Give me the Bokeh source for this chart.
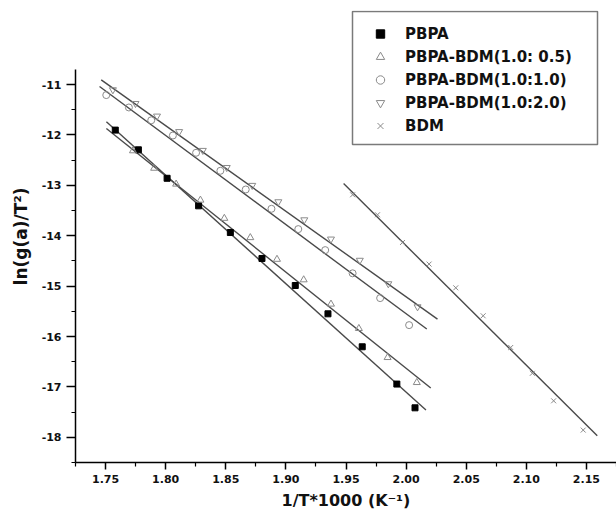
import numpy as np
from bokeh.plotting import figure
from bokeh.models import Legend, LegendItem, FixedTicker, NumeralTickFormatter, BoxAnnotation
from bokeh.embed import file_html
from bokeh.resources import INLINE

# ---------------- data ----------------
pbpa_x = [1.7581, 1.7773, 1.8012, 1.8274, 1.8538, 1.8801, 1.9078, 1.9350, 1.9635, 1.9923, 2.0074]
pbpa_y = [-11.905, -12.296, -12.861, -13.407, -13.937, -14.452, -14.988, -15.550, -16.204, -16.944, -17.415]

b05_x = [1.7728, 1.7904, 1.8087, 1.8289, 1.8488, 1.8704, 1.8926, 1.9148, 1.9375, 1.9607, 1.9846, 2.0089]
b05_y = [-12.315, -12.661, -12.976, -13.294, -13.655, -14.038, -14.468, -14.875, -15.357, -15.841, -16.417, -16.913]

b10_x = [1.7506, 1.7694, 1.7880, 1.8060, 1.8253, 1.8455, 1.8666, 1.8880, 1.9103, 1.9327, 1.9555, 1.9784, 2.0025]
b10_y = [-11.210, -11.456, -11.710, -12.012, -12.355, -12.712, -13.083, -13.466, -13.869, -14.286, -14.746, -15.238, -15.774]

b20_x = [1.7561, 1.7749, 1.7928, 1.8112, 1.8309, 1.8508, 1.8720, 1.8937, 1.9153, 1.9375, 1.9615, 1.9852, 2.0095]
b20_y = [-11.105, -11.377, -11.627, -11.935, -12.308, -12.647, -13.002, -13.327, -13.685, -14.067, -14.488, -14.954, -15.411]

bdm_x = [1.9555, 1.9762, 1.9970, 2.0191, 2.0413, 2.0641, 2.0870, 2.1050, 2.1227, 2.1473]
bdm_y = [-13.188, -13.585, -14.135, -14.563, -15.034, -15.589, -16.218, -16.730, -17.276, -17.857]

series_names = ["PBPA", "PBPA-BDM(1.0: 0.5)", "PBPA-BDM(1.0:1.0)", "PBPA-BDM(1.0:2.0)", "BDM"]

# linear fits (slope, intercept, x-span)
fit_slope = [-21.52, -19.09, -17.68, -16.975, -23.73]
fit_intercept = [25.935, 21.548, 19.812, 18.738, 33.262]
fit_x_start = [1.7507, 1.7507, 1.7450, 1.7464, 1.9480]
fit_x_end = [2.0165, 2.0205, 2.0172, 2.0261, 2.1590]

x_ticks = [1.75, 1.80, 1.85, 1.90, 1.95, 2.00, 2.05, 2.10, 2.15]
x_minor = [1.725, 1.775, 1.825, 1.875, 1.925, 1.975, 2.025, 2.075, 2.125, 2.175]
y_ticks = [-18, -17, -16, -15, -14, -13, -12, -11]
y_minor = [-18.5, -17.5, -16.5, -15.5, -14.5, -13.5, -12.5, -11.5]

x_axis_span = (1.725, 2.175)
y_axis_span = (-18.5, -10.7)

# ---------------- figure ----------------
FONT = "DejaVu Sans"
px_per_y = 50.4
frame_h = 452

p = figure(width=616, height=516, output_backend="svg", toolbar_location=None,
           x_range=x_axis_span,
           y_range=(y_axis_span[0], y_axis_span[0] + frame_h / px_per_y),
           min_border_left=75, min_border_right=0, min_border_top=10, min_border_bottom=54)
p.background_fill_color = "white"
p.border_fill_color = "white"
p.outline_line_color = None
p.xgrid.visible = False
p.ygrid.visible = False

for ax in (p.xaxis[0], p.yaxis[0]):
    ax.axis_line_color = "black"
    ax.axis_line_width = 1.5
    ax.major_tick_line_color = "black"
    ax.major_tick_line_width = 1.5
    ax.minor_tick_line_color = "black"
    ax.minor_tick_line_width = 1.2
    ax.major_tick_in = 0
    ax.minor_tick_in = 0
    ax.major_label_text_font = FONT
    ax.major_label_text_font_style = "bold"
    ax.major_label_text_font_size = "11px"
    ax.major_label_text_color = "#111111"
    ax.axis_label_text_font = FONT
    ax.axis_label_text_font_style = "bold"
    ax.axis_label_text_color = "#111111"

p.xaxis.axis_label_text_font_size = "16px"
p.yaxis.axis_label_text_font_size = "17px"
p.xaxis.bounds = x_axis_span
p.yaxis.bounds = y_axis_span
p.xaxis.ticker = FixedTicker(ticks=x_ticks, minor_ticks=x_minor)
p.yaxis.ticker = FixedTicker(ticks=y_ticks, minor_ticks=y_minor)
p.xaxis.formatter = NumeralTickFormatter(format="0.00")
p.yaxis.formatter = NumeralTickFormatter(format="0")
p.xaxis.major_tick_out = 7
p.xaxis.minor_tick_out = 4
p.yaxis.major_tick_out = 9
p.yaxis.minor_tick_out = 4
p.xaxis.major_label_standoff = 5
p.yaxis.major_label_standoff = 5
p.xaxis.axis_label_standoff = 5
p.yaxis.axis_label_standoff = 8
p.xaxis.axis_label = "1/T*1000 (K\u207b\u00b9)"
p.yaxis.axis_label = "ln(g(a)/T\u00b2)"

# fit lines
for s, b, x0, x1 in zip(fit_slope, fit_intercept, fit_x_start, fit_x_end):
    xs = np.array([x0, x1])
    p.line(xs, b + s * xs, line_color="#4a4a4a", line_width=1.4)

GRAY = "#8a8a8a"
r0 = p.scatter(pbpa_x, pbpa_y, marker="square", size=6, fill_color="black", line_color="black")
r1 = p.scatter(b05_x, b05_y, marker="triangle", size=7, fill_color=None, line_color=GRAY, line_width=1)
r2 = p.scatter(b10_x, b10_y, marker="circle", size=7, fill_color=None, line_color=GRAY, line_width=1)
r3 = p.scatter(b20_x, b20_y, marker="inverted_triangle", size=7, fill_color=None, line_color=GRAY, line_width=1)
r4 = p.scatter(bdm_x, bdm_y, marker="x", size=7, line_color=GRAY, line_width=1)

# legend frame drawn as a screen-space box, then the legend items on top of it
legend_box = BoxAnnotation(left=277, right=522, bottom=318, top=451,
                           left_units="screen", right_units="screen",
                           bottom_units="screen", top_units="screen",
                           fill_color="white", fill_alpha=1.0,
                           line_color="#7a7a7a", line_width=1.5, line_alpha=1.0)
p.add_layout(legend_box)

legend = Legend(items=[LegendItem(label=n, renderers=[r]) for n, r in zip(series_names, [r0, r1, r2, r3, r4])],
                location=(287, 326))
legend.label_text_font = FONT
legend.label_text_font_style = "bold"
legend.label_text_font_size = "15px"
legend.label_text_color = "#111111"
legend.glyph_width = 36
legend.glyph_height = 21
legend.label_height = 21
legend.label_width = 167
legend.label_standoff = 7
legend.spacing = 2
legend.padding = 10
legend.margin = 0
legend.border_line_color = None
legend.background_fill_alpha = 0.0
p.add_layout(legend, "center")

open("out.html", "w").write(file_html(p, INLINE))
